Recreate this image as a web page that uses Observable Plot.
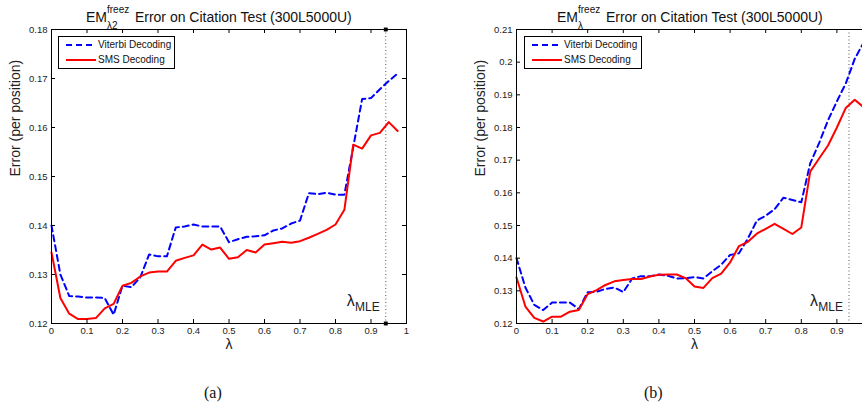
<!DOCTYPE html>
<html>
<head>
<meta charset="utf-8">
<script src="https://cdn.jsdelivr.net/npm/d3@7"></script>
<script src="https://cdn.jsdelivr.net/npm/@observablehq/plot@0.6"></script>
<style>
  html, body { margin: 0; padding: 0; background: #fff; }
  #root { position: relative; width: 862px; height: 405px; overflow: hidden; background: #fff;
          font-family: "Liberation Sans", Arial, sans-serif; color: #111; }
  #root svg.plot { position: absolute; top: 0; }
  .title { position: absolute; top: 9px; font-size: 14px; line-height: 16px; white-space: nowrap; }
  .ss { display: inline-block; position: relative; width: 24px; height: 0; }
  .ss span { position: absolute; left: 0; font-size: 10px; line-height: 10px; white-space: nowrap; }
  .ss .sup { bottom: 7.5px; }
  .ss .sub { bottom: -8.5px; }
  .legend { position: absolute; top: 36px; height: 31px; border: 1px solid #000; background: #fff;
            font-size: 10px; }
  .legend .row { position: absolute; left: 6px; height: 12px; line-height: 12px; white-space: nowrap; }
  .legend .row svg { position: absolute; left: 0; top: 0; }
  .legend .row span { position: absolute; left: 33px; top: 0; }
  .cap { position: absolute; top: 385px; font-family: "Liberation Serif", "Times New Roman", serif;
         font-size: 16px; line-height: 16px; }
</style>
</head>
<body>
<div id="root"></div>
<script>
// ---- data ----
const lambda = [0, 0.025, 0.05, 0.075, 0.1, 0.125, 0.15, 0.175, 0.2, 0.225,
                0.25, 0.275, 0.3, 0.325, 0.35, 0.375, 0.4, 0.425, 0.45, 0.475,
                0.5, 0.525, 0.55, 0.575, 0.6, 0.625, 0.65, 0.675, 0.7, 0.725,
                0.75, 0.775, 0.8, 0.825, 0.85, 0.875, 0.9, 0.925, 0.95, 0.975];

const viterbiA = [0.1400, 0.1300, 0.1256, 0.1255, 0.1253, 0.1253, 0.1252, 0.1218, 0.1277, 0.1274,
                  0.1294, 0.1341, 0.1337, 0.1337, 0.1396, 0.1398, 0.1402, 0.1398, 0.1398, 0.1398,
                  0.1366, 0.1372, 0.1377, 0.1378, 0.1380, 0.1390, 0.1394, 0.1404, 0.1410, 0.1466,
                  0.1464, 0.1467, 0.1463, 0.1463, 0.1560, 0.1658, 0.1660, 0.1678, 0.1695, 0.1710];
const smsA     = [0.1345, 0.1252, 0.1220, 0.1209, 0.1209, 0.1211, 0.1231, 0.1240, 0.1277, 0.1283,
                  0.1296, 0.1304, 0.1306, 0.1306, 0.1328, 0.1334, 0.1339, 0.1361, 0.1351, 0.1355,
                  0.1332, 0.1335, 0.1350, 0.1345, 0.1361, 0.1364, 0.1367, 0.1365, 0.1368, 0.1375,
                  0.1383, 0.1391, 0.1402, 0.1432, 0.1565, 0.1557, 0.1584, 0.1589, 0.1611, 0.1593];

const viterbiB = [0.1400, 0.1310, 0.1257, 0.1241, 0.1264, 0.1264, 0.1264, 0.1244, 0.1296, 0.1297,
                  0.1306, 0.1310, 0.1296, 0.1338, 0.1345, 0.1345, 0.1350, 0.1346, 0.1338, 0.1339,
                  0.1342, 0.1338, 0.1360, 0.1380, 0.1410, 0.1415, 0.1460, 0.1515, 0.1530, 0.1550,
                  0.1585, 0.1578, 0.1571, 0.1690, 0.1752, 0.1822, 0.1880, 0.1935, 0.2010, 0.2060];
const smsB     = [0.1341, 0.1252, 0.1217, 0.1206, 0.1221, 0.1221, 0.1236, 0.1241, 0.1290, 0.1302,
                  0.1318, 0.1329, 0.1333, 0.1336, 0.1336, 0.1344, 0.1349, 0.1350, 0.1350, 0.1339,
                  0.1313, 0.1309, 0.1339, 0.1353, 0.1387, 0.1437, 0.1450, 0.1475, 0.1490, 0.1505,
                  0.1490, 0.1474, 0.1494, 0.1665, 0.1705, 0.1745, 0.1800, 0.1860, 0.1885, 0.1862];

const xTicks   = [0, 0.1, 0.2, 0.3, 0.4, 0.5, 0.6, 0.7, 0.8, 0.9, 1];
const xLabelsA = [0, 0.1, 0.2, 0.3, 0.4, 0.5, 0.6, 0.7, 0.8, 0.9, 1];
const xLabelsB = [0, 0.1, 0.2, 0.3, 0.4, 0.5, 0.6, 0.7, 0.8, 0.9];
const yTicksA = [0.12, 0.13, 0.14, 0.15, 0.16, 0.17, 0.18];
const yTicksB = [0.12, 0.13, 0.14, 0.15, 0.16, 0.17, 0.18, 0.19, 0.2, 0.21];
const mleA = 0.9416;
const mleB = 0.934;
const seriesNames = ["Viterbi Decoding", "SMS Decoding"];
const titleMain = "Error on Citation Test (300L5000U)";
const yLabel = "Error (per position)";
const xLabel = "λ";

// ---- drawing ----
const fmt = d3.format("~g");
const root = document.getElementById("root");

function chart({vit, sms, yDomain, yTicks, xLabels, width, mle, squares, left}) {
  const H = 355, mT = 29, mB = 32, mL = 51, mR = 25;
  const innerH = H - mT - mB, innerW = width - mL - mR;
  const data = lambda.map((l, i) => ({l, v: vit[i], s: sms[i]}));
  const marks = [
    Plot.ruleX([mle], {x: d => d, stroke: "#555", strokeDasharray: "1,2.5", strokeWidth: 1}),
    Plot.line(data, {x: "l", y: "v", stroke: "#0000ff", strokeWidth: 2, strokeDasharray: "6,4"}),
    Plot.line(data, {x: "l", y: "s", stroke: "#ff0000", strokeWidth: 2}),
    Plot.tickX(xTicks, {x: d => d, insetTop: innerH - 4, stroke: "#000"}),
    Plot.tickX(xTicks, {x: d => d, insetBottom: innerH - 4, stroke: "#000"}),
    Plot.tickY(yTicks, {y: d => d, insetLeft: innerW - 4, stroke: "#000"}),
    Plot.tickY(yTicks, {y: d => d, insetRight: innerW - 4, stroke: "#000"}),
    Plot.axisX(xLabels, {tickSize: 0, tickPadding: 4, tickFormat: fmt, label: null}),
    Plot.axisY(yTicks, {tickSize: 0, tickPadding: 4, tickFormat: fmt, label: null}),
    Plot.frame({stroke: "#000"}),
    Plot.text([yLabel], {text: d => d, frameAnchor: "left", rotate: -90, dx: -36, fontSize: 14}),
    Plot.text([xLabel], {text: d => d, frameAnchor: "bottom", dy: 25, fontSize: 14}),
    Plot.text(["MLE"], {x: mle, text: d => d, frameAnchor: "bottom", textAnchor: "end", lineAnchor: "bottom",
                        dx: -6, dy: -13, fontSize: 12}),
    Plot.text(["λ"], {x: mle, text: d => d, frameAnchor: "bottom", textAnchor: "end", lineAnchor: "bottom",
                      dx: -31, dy: -18, fontSize: 16})
  ];
  if (squares) {
    marks.push(Plot.dot([mle], {x: d => d, frameAnchor: "top", symbol: "square", r: 2.2, fill: "#000"}));
    marks.push(Plot.dot([mle], {x: d => d, frameAnchor: "bottom", symbol: "square", r: 2.2, fill: "#000"}));
  }
  const svg = Plot.plot({
    width, height: H, marginTop: mT, marginBottom: mB, marginLeft: mL, marginRight: mR,
    x: {domain: [0, 1]},
    y: {domain: yDomain},
    style: {fontFamily: "Liberation Sans, Arial, sans-serif", fontSize: "9.5px", color: "#222",
            background: "transparent", overflow: "visible"},
    marks
  });
  svg.classList.add("plot");
  svg.style.left = left + "px";
  root.appendChild(svg);
}

chart({vit: viterbiA, sms: smsA, yDomain: [0.12, 0.18], yTicks: yTicksA, xLabels: xLabelsA, width: 431, mle: mleA, squares: true, left: 0});
chart({vit: viterbiB, sms: smsB, yDomain: [0.12, 0.21], yTicks: yTicksB, xLabels: xLabelsB, width: 432, mle: mleB, squares: false, left: 465});

function addTitle(left, sub) {
  const t = document.createElement("div");
  t.className = "title";
  t.style.left = left + "px";
  t.innerHTML = 'EM<span class="ss"><span class="sup">freez</span><span class="sub">' + sub + '</span></span> ' + titleMain;
  root.appendChild(t);
}
addTitle(86, "λ2");
addTitle(557, "λ");

function addLegend(left, width) {
  const lg = document.createElement("div");
  lg.className = "legend";
  lg.style.left = left + "px";
  lg.style.width = width + "px";
  const styles = [{stroke: "#0000ff", dash: "6,4"}, {stroke: "#ff0000", dash: null}];
  seriesNames.forEach((name, i) => {
    const row = document.createElement("div");
    row.className = "row";
    row.style.top = (i === 0 ? 2 : 17) + "px";
    row.innerHTML = '<svg width="31" height="12"><line x1="1" x2="31" y1="6" y2="6" stroke="' + styles[i].stroke +
      '" stroke-width="2"' + (styles[i].dash ? ' stroke-dasharray="' + styles[i].dash + '"' : '') + '/></svg><span>' + name + '</span>';
    lg.appendChild(row);
  });
  root.appendChild(lg);
}
addLegend(58, 115);
addLegend(524, 116);

[["(a)", 204], ["(b)", 644]].forEach(([txt, x]) => {
  const c = document.createElement("div");
  c.className = "cap";
  c.style.left = x + "px";
  c.textContent = txt;
  root.appendChild(c);
});
</script>
</body>
</html>
